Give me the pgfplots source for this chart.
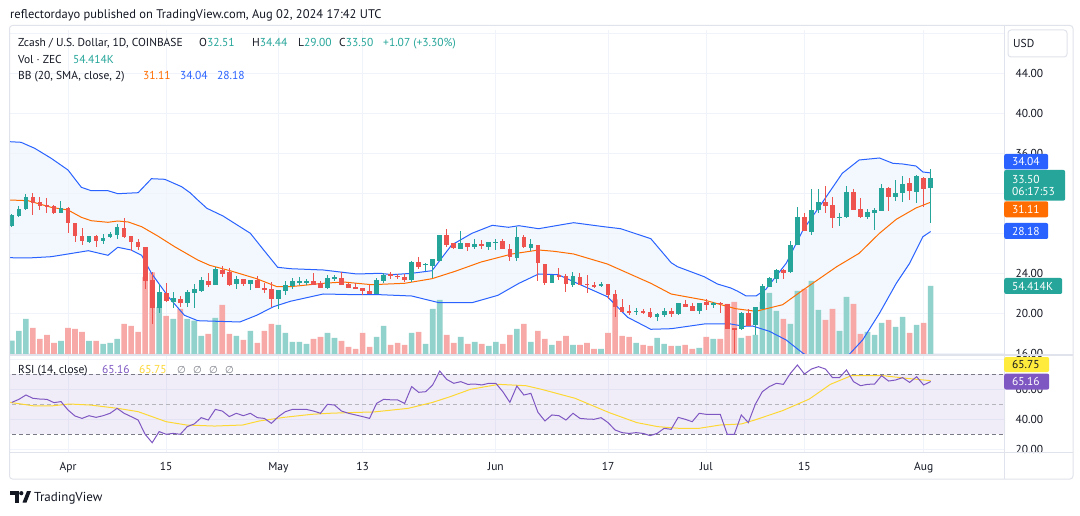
\documentclass[border=0pt]{standalone}
\usepackage{fontspec}
\setmainfont{PT Sans}
\newfontfamily\dejavu{DejaVu Sans}
\usepackage{pgfplots}
\pgfplotsset{compat=1.18}
\usepackage{pgfplotstable}

\definecolor{upc}{HTML}{26A69A}
\definecolor{dnc}{HTML}{EF5350}
\definecolor{volup}{HTML}{92D2CC}
\definecolor{voldn}{HTML}{F7A9A7}
\definecolor{bbblue}{HTML}{2962FF}
\definecolor{bborange}{HTML}{FF6D00}
\definecolor{bbfillc}{HTML}{F2F8FE}
\definecolor{rsic}{HTML}{7E57C2}
\definecolor{rsima}{HTML}{FDD835}
\definecolor{gridc}{HTML}{F0F3FA}
\definecolor{framec}{HTML}{E0E3EB}
\definecolor{txt}{HTML}{131722}
\definecolor{dashc}{HTML}{787B86}
\definecolor{tagyellow}{HTML}{FFEB3B}

\newcommand\fs{\fontsize{11.5}{13}\selectfont}

% d = days since 1 Apr 2024
\pgfplotstableread{
d O H L C V
-8 28.73 29.93 28.63 29.83 10.7
-7 29.73 30.73 29.6 30.4 18.4
-6 30.4 31.93 30.33 31.63 28
-1 30.06 31.26 30.0 30.53 10.4
3 27.13 27.73 27.0 27.73 10.4
5 27.26 27.93 26.9 27.53 8
6 27.6 28.13 27.53 27.93 8.8
7 27.86 28.93 27.46 28.6 12
13 20.56 22.93 19.99 22.13 37.6
15 21.13 22.1 20.5 21.53 28
17 21.03 22.3 20.63 22.1 28
18 22.06 22.9 20.5 22.4 26.7
19 22.23 23.66 22.1 23.3 14.4
21 22.86 24.6 22.8 24.4 28.8
24 22.93 23.73 22.46 23.4 14.4
26 22.93 23.33 22.33 23.33 18.4
30 21.46 22.33 20.4 22.33 23.2
31 22.26 23.26 21.8 22.8 16.8
32 22.73 23.53 22.4 23.26 9.6
33 23.13 23.6 22.8 23.2 9.6
34 23.13 23.4 22.86 23.2 8
37 22.53 23.8 22.4 23.53 16.8
38 23.53 23.86 23.26 23.56 12.8
44 21.93 23.53 21.93 23.33 13.6
45 23.26 24.0 23.06 23.86 22.4
49 23.33 25.2 23.13 25.13 16.8
51 24.86 25.0 24.26 24.9 8
52 24.73 25.46 23.53 25.46 36
53 25.26 27.8 25.26 27.8 43.2
56 26.46 28.26 26.4 27.0 13.6
58 26.66 27.46 26.46 26.93 9.6
60 26.66 27.13 26.33 27.13 6.4
61 27.1 27.4 26.33 27.13 9.6
64 25.53 28.66 25.26 27.66 20
66 26.53 27.4 26.26 26.93 9.6
69 23.06 23.8 23.06 23.8 7.2
72 22.8 24.13 22.6 23.73 7.2
76 22.73 23.13 22.6 22.93 4
81 20.16 20.53 19.8 20.2 8.8
84 19.66 20.06 19.26 19.93 12.8
85 19.8 20.53 19.66 20.26 8
87 19.93 21.06 19.86 21.06 6.4
90 20.26 21.06 19.93 21.06 4.8
92 20.93 21.13 20.53 20.96 12
96 18.4 20.13 18.33 20.06 12.8
98 18.8 20.66 17.86 20.6 15.2
99 20.46 22.93 20.46 22.73 41.6
100 22.66 23.66 22.6 23.53 48.8
101 23.46 24.46 23.0 24.33 34.4
103 24.13 27.2 24.06 26.8 24
104 26.8 30.6 26.8 29.6 50.4
106 28.13 32.4 27.86 30.33 58.4
107 30.33 32.46 30.0 31.13 35.2
110 29.6 30.0 28.73 29.63 18.4
111 29.6 32.73 29.53 32.13 45.6
114 29.66 30.46 29.46 30.13 17.6
115 30.06 30.53 28.33 30.33 15.2
116 30.26 32.93 30.26 32.53 24.8
118 31.66 33.33 31.2 32.0 21.6
119 32.0 33.73 31.13 32.93 29.6
121 32.13 33.8 31.06 33.73 23.2
123 32.51 34.44 29.0 33.50 54.414
}\upcandles

\pgfplotstableread{
d O H L C V
-5 31.63 32.03 29.86 31.06 20.8
-4 31.13 31.63 30.36 30.76 12
-3 30.8 31.53 30.0 30.7 15.2
-2 30.73 30.8 29.96 30.06 8.8
0 30.53 30.6 28.06 29.06 20.8
1 29.03 29.03 27.16 27.76 20
2 27.73 28.53 26.83 27.26 17.6
4 27.73 27.8 26.66 27.26 10.4
8 28.53 29.53 27.53 27.63 24
9 27.73 27.73 26.26 27.1 22.4
10 27.13 27.4 26.33 26.6 17.6
11 26.63 26.63 22.43 23.26 61.6
12 23.3 24.16 18.96 20.56 65.3
14 22.0 23.03 21.1 21.23 30.4
16 21.43 21.73 20.66 21.03 36
20 23.23 24.06 22.6 22.83 16
22 24.33 24.73 23.66 23.93 39.2
23 24.13 24.53 22.73 22.8 16
25 23.46 23.46 22.73 22.93 11.2
27 23.33 23.73 22.53 22.53 8.8
28 22.53 23.0 22.0 22.33 18.4
29 22.4 23.13 20.66 21.46 24
35 23.26 24.0 22.86 22.86 12
36 23.0 23.26 22.53 22.53 13.6
39 23.53 24.13 22.86 22.86 10.4
40 22.96 23.06 22.53 22.53 5.6
41 22.66 23.0 22.4 22.46 4
42 22.53 22.53 21.8 22.2 16.8
43 22.26 22.8 21.93 21.93 5.6
46 23.86 24.13 23.46 23.8 7.2
47 23.76 23.93 23.4 23.66 8.8
48 23.66 23.93 23.13 23.33 7.2
50 25.13 25.66 24.4 24.66 17.6
54 27.8 28.46 26.6 26.8 15.2
55 27.0 27.06 26.4 26.53 8.8
57 27.0 27.0 26.26 26.66 8
59 26.9 27.33 26.4 26.8 8
62 27.26 27.4 26.4 26.4 8
63 26.46 26.93 25.26 25.6 15.2
65 27.66 27.8 26.53 26.6 24
67 26.8 26.8 23.26 25.0 18.4
68 24.93 24.93 22.86 23.06 12
70 23.86 24.53 23.33 23.6 10.4
71 23.73 23.93 22.13 22.93 14.4
73 23.66 24.0 22.8 22.86 7.2
74 22.93 23.8 22.06 22.86 8.8
75 22.86 23.13 22.53 22.66 4
77 22.93 22.93 21.4 21.8 16.8
78 21.93 22.33 19.66 20.6 43.7
79 20.66 21.4 20.13 20.13 14.4
80 20.2 20.8 19.86 20.13 13.6
82 20.2 20.46 19.93 20.13 7.2
83 20.13 20.53 19.53 19.66 6.4
86 20.26 20.53 19.66 19.93 6.4
88 20.93 21.33 20.66 20.66 7.2
89 20.73 21.06 20.26 20.26 4
91 21.13 21.46 20.33 20.86 13.6
93 21.0 21.13 20.06 20.96 12
94 20.93 20.93 18.46 18.46 40
95 18.5 18.53 16.06 18.46 41.6
97 20.06 20.46 18.73 18.73 14.4
102 24.33 24.4 23.46 24.0 28
105 29.6 30.0 28.2 28.26 52
108 31.13 32.73 30.0 30.73 27.2
109 30.8 31.6 28.53 29.53 36
112 32.13 32.4 30.33 30.33 40
113 30.4 31.53 29.53 29.6 16
117 32.53 32.6 30.26 31.66 27.2
120 33.06 33.53 31.33 32.2 16.8
122 33.53 33.6 30.66 32.43 24.8
}\dncandles

\pgfplotstableread{
d v
-8.3 37.16
-6.7 37.1
-4.75 36.5
-2.4 35.5
0 34.33
1.9 32.6
3.3 32.26
5.7 32.26
7.1 31.96
10 32.06
11.9 33.46
13.8 33.4
16.2 32.66
17.4 32.06
18.5 31.33
19.8 30.5
22.1 29.73
26 28.0
27.9 26.33
29.9 24.6
31.7 24.46
36.4 24.33
41.2 23.93
44.5 24.0
46.2 23.86
49 24.0
51.9 24.26
54.7 26.83
57.6 28.0
60.5 28.8
62.8 28.6
64.3 28.76
67.1 28.46
70.4 28.86
72.1 29.06
76.4 28.66
78.8 28.46
83.1 27.46
86 25.06
86.9 24.66
90.7 23.66
92.6 22.93
94.5 22.53
95.5 22.2
96.7 21.73
98.1 21.73
99.5 22.4
102.4 25.0
104.8 28.33
107.6 31.13
110.4 34.0
112.8 35.33
115.7 35.53
117.6 35.0
119 34.93
120.9 34.73
121.9 34.13
123 34.04
}\bbU

\pgfplotstableread{
d v
-8.3 31.33
-5.7 31.26
-2.4 30.6
0 30.33
1.9 29.6
3.3 29.26
5.7 29.1
7.1 29.23
8.6 29.13
10.5 28.66
12.8 27.73
15.2 26.66
18.5 25.33
20.2 24.8
23.1 24.26
26.9 23.46
29.8 22.66
31.7 22.66
36.4 23.0
39.3 23.13
43.3 22.86
48 23.0
51.9 23.46
55.2 24.2
58.9 25.13
63.3 25.93
67.1 26.33
69.3 26.2
72.1 25.93
76.9 24.93
83.1 23.0
86 21.93
90.7 21.33
95.2 20.46
98.1 20.2
101.9 20.86
104.8 22.33
109.6 24.66
112.8 26.0
115.7 28.0
118.1 29.4
120.9 30.53
123 31.11
}\bbM

\pgfplotstableread{
d v
-8.3 25.56
-5.7 25.53
-2.4 25.66
0 25.93
2.9 26.26
5.7 25.8
7.1 26.6
9 26.33
10.5 25.8
11.9 24.0
14.3 21.66
16.6 19.8
18.5 19.26
24.5 19.13
26.9 19.8
29.3 20.66
31.7 21.2
36.4 21.93
41.2 21.86
44.5 21.86
49 21.73
52.9 21.06
57.6 21.06
61.3 21.8
64.3 23.0
67.1 23.93
69.9 23.86
72.6 23.0
76.9 21.66
79.8 19.6
83.1 18.4
86 18.46
90.7 18.93
94.5 18.93
96.4 18.7
97.6 18.73
100 18.2
102.4 17.33
104.8 16.0
107 15.2
109 14.9
111 15.6
113.3 17.33
115.7 20.0
118.1 23.0
120 25.0
121.9 27.66
123 28.18
}\bbL

\pgfplotstableread{
d v
-8 51.3
-7 53.3
-6 56.2
-5 54
-4 53.5
-3 53.3
-2 51.1
-1 51.8
0 46.2
1 42.2
2 40.6
3 42.4
4 41.3
5 42.4
6 44
7 47.3
8 44
9 41.8
10 39.5
11 30
12 24.4
13 31.8
14 30
15 30.6
16 30
17 35.1
18 36.9
19 41.1
20 39.5
21 46.6
22 45.5
23 41.8
24 44
25 42.4
26 44
27 41.1
28 40.6
29 37.3
30 41.8
31 45.1
32 46.6
33 46.6
34 46.6
35 45.5
36 44
37 50
38 49.5
39 45.5
40 44
41 42.9
42 41.8
43 40.6
44 50.6
45 53.3
46 53
47 52.9
48 50.6
49 61.8
50 58
51 58.4
52 62.9
53 72.2
54 66.6
55 64
56 65.1
57 63.3
58 63.5
59 62.9
60 64
61 64
62 58.4
63 51.3
64 62.2
65 56.2
66 57.3
67 44.7
68 38.9
69 42.9
70 42.4
71 39.5
72 44
73 40.6
74 40.2
75 40
76 41.1
77 37.8
78 32.9
79 31.1
80 30.6
81 31.1
82 30.6
83 29.1
84 30.6
85 34
86 33.3
87 41.3
88 40
89 38.4
90 44
91 43.3
92 43.3
93 43.3
94 30
95 30
96 42.9
97 37.8
98 50
99 58.4
100 61.8
101 64
102 63.3
103 70.6
104 76.2
105 70.2
106 73.5
107 75.1
108 73.5
109 67.8
110 67.8
111 72.9
112 65.1
113 62.4
114 63.3
115 63.5
116 69.1
117 65.5
118 66.2
119 67.8
120 64.6
121 68.4
122 62.9
123 65.16
}\rsitab

\pgfplotstableread{
d v
-8.3 51.3
-4.8 48.9
-2.4 48.9
0.2 50.2
3.2 49.5
7.1 47.3
10 45.1
14 38.4
16.9 36.2
20.9 35.5
24.9 36.2
27.3 38.9
30.8 41.3
34.7 43.3
37.2 44
39.6 44.4
43.6 44.9
48.5 47.3
52 51.3
54.5 55.1
57.4 60
61.4 63.3
65.3 62.4
67.5 60
72.3 54
77.2 44.4
81.1 37.8
84.1 35.1
87.1 34
90 34
93 36.2
96 36.9
97.9 39.5
101.9 45.8
105.7 53.5
108.7 63.3
111.7 69.1
116.2 69.1
119.6 67.3
123 65.75
}\rsimatab

\pgfplotsset{
  pane/.style={scale only axis, width=995pt, xmin=-8.27, xmax=133.6,
    anchor=south west, axis line style={draw=none},
    major tick length=0pt, tick style={draw=none},
    ticklabel style={font=\fs, text=txt}},
  wick/.style={only marks, mark=*, mark size=0pt, mark options={draw=none, fill=none},
    error bars/.cd, y dir=both, y explicit,
    error mark=none, error bar style={draw=#1, line width=1pt}},
  body/.style={only marks, mark=*, mark size=0pt, mark options={draw=none, fill=none},
    error bars/.cd, y dir=both, y explicit,
    error mark=none, error bar style={draw=#1, line width=4.7pt}},
}

\begin{document}
\begin{tikzpicture}
\fill[white] (0pt,0pt) rectangle (1080pt,515pt);

% ---------- price pane: BB fill + grid on top of it
\begin{axis}[pane, at={(10pt,161pt)}, height=324pt, ymin=15.93, ymax=48.33,
  axis on top,
  xtick={0,14,30,42,61,77,91,105,122}, xticklabels={,,,,,,,,,},
  ytick={16,20,24,28,32,36,40,44,48},
  yticklabels={16.00,20.00,24.00,,,36.00,40.00,44.00,},
  yticklabel pos=right, yticklabel style={anchor=west, xshift=7pt},
  grid=major, grid style={gridc, line width=1pt}]
\addplot[fill=bbfillc, draw=none] table[x=d,y=v] {\bbU} \closedcycle;
\addplot[fill=white, draw=none] table[x=d,y=v] {\bbL} \closedcycle;
\end{axis}

% ---------- volume
\begin{axis}[pane, at={(10pt,161pt)}, height=324pt, ymin=0, ymax=259.2,
  xtick=\empty, ytick=\empty]
\addplot[ybar, bar width=5.6pt, bar shift=0pt, fill=volup, draw=none] table[x=d,y=V] {\upcandles};
\addplot[ybar, bar width=5.6pt, bar shift=0pt, fill=voldn, draw=none] table[x=d,y=V] {\dncandles};
\end{axis}

% ---------- BB lines + candles
\begin{axis}[pane, at={(10pt,161pt)}, height=324pt, ymin=15.93, ymax=48.33,
  xtick=\empty, ytick=\empty]
\addplot[bbblue, line width=1pt] table[x=d,y=v] {\bbU};
\addplot[bbblue, line width=1pt] table[x=d,y=v] {\bbL};
\addplot[bborange, line width=1pt] table[x=d,y=v] {\bbM};
\addplot[wick=upc] table[x=d, y expr={(\thisrow{H}+\thisrow{L})/2}, y error expr={(\thisrow{H}-\thisrow{L})/2}] {\upcandles};
\addplot[wick=dnc] table[x=d, y expr={(\thisrow{H}+\thisrow{L})/2}, y error expr={(\thisrow{H}-\thisrow{L})/2}] {\dncandles};
\addplot[body=upc] table[x=d, y expr={(\thisrow{O}+\thisrow{C})/2}, y error expr={max(abs(\thisrow{C}-\thisrow{O})/2,0.06)}] {\upcandles};
\addplot[body=dnc] table[x=d, y expr={(\thisrow{O}+\thisrow{C})/2}, y error expr={max(abs(\thisrow{C}-\thisrow{O})/2,0.06)}] {\dncandles};
\end{axis}

% ---------- RSI pane
\begin{axis}[pane, at={(10pt,62.5pt)}, height=96.5pt, ymin=17.87, ymax=82.2,
  xtick={0,14,30,42,61,77,91,105,122},
  xticklabels={Apr,15,May,13,Jun,17,Jul,15,Aug},
  xticklabel style={yshift=-6pt},
  ytick={20,40,60,80}, yticklabels={20.00,40.00,60.00,},
  yticklabel pos=right, yticklabel style={anchor=west, xshift=7pt},
  grid=major, grid style={gridc, line width=1pt}]
\addplot[fill=rsic, fill opacity=0.1, draw=none] coordinates {(-9,30) (134,30) (134,70) (-9,70)} -- cycle;
\addplot[dashc, line width=0.9pt, dash pattern=on 4pt off 3pt] coordinates {(-9,70) (134,70)};
\addplot[dashc!55, line width=0.9pt, dash pattern=on 4pt off 3pt] coordinates {(-9,50) (134,50)};
\addplot[dashc, line width=0.9pt, dash pattern=on 4pt off 3pt] coordinates {(-9,30) (134,30)};
\addplot[rsima, line width=1pt] table[x=d,y=v] {\rsimatab};
\addplot[rsic, line width=1pt] table[x=d,y=v] {\rsitab};
\end{axis}

% ---------- frame and separators
\draw[framec, line width=1pt, rounded corners=3pt] (9.5pt,36pt) rectangle (1073pt,489.5pt);
\draw[framec, line width=1pt] (1004pt,36pt) -- (1004pt,489.5pt);
\draw[framec, line width=2pt] (9.5pt,160pt) -- (1073pt,160pt);
\draw[framec, line width=1pt] (9.5pt,62.5pt) -- (1073pt,62.5pt);

% ---------- header and legends
\node[anchor=base west, inner sep=0pt, text=txt, font=\fontsize{12.5}{14}\selectfont] at (10pt,496.7pt)
  {reflectordayo published on TradingView.com, Aug 02, 2024 17:42 UTC};
\begin{scope}[every node/.style={anchor=base west, inner sep=0pt, text=txt, font=\fs}]
\node at (18pt,468.7pt) {Zcash / U.S. Dollar, 1D, COINBASE};
\node at (199pt,468.7pt) {O\textcolor{upc}{32.51}};
\node at (252pt,468.7pt) {H\textcolor{upc}{34.44}};
\node at (298pt,468.7pt) {L\textcolor{upc}{29.00}};
\node at (339pt,468.7pt) {C\textcolor{upc}{33.50}};
\node[text=upc] at (383pt,468.7pt) {+1.07 (+3.30\%)};
\node at (18pt,451.7pt) {Vol · ZEC};
\node[text=upc] at (73pt,451.7pt) {54.414K};
\node at (18pt,435pt) {BB (20, SMA, close, 2)};
\node[text=bborange] at (143pt,435pt) {31.11};
\node[text=bbblue] at (180pt,435pt) {34.04};
\node[text=bbblue] at (217pt,435pt) {28.18};
\node at (18pt,142pt) {RSI (14, close)};
\node[text=rsic] at (102pt,142pt) {65.16};
\node[text=rsima] at (139pt,142pt) {65.75};
\node[text=dashc] at (177pt,142pt) {\dejavu\fontsize{10}{12}\selectfont ∅};
\node[text=dashc] at (193pt,142pt) {\dejavu\fontsize{10}{12}\selectfont ∅};
\node[text=dashc] at (209pt,142pt) {\dejavu\fontsize{10}{12}\selectfont ∅};
\node[text=dashc] at (225pt,142pt) {\dejavu\fontsize{10}{12}\selectfont ∅};
\end{scope}

% ---------- USD box
\draw[framec, line width=1pt, rounded corners=3pt] (1008pt,458pt) rectangle (1067pt,485pt);
\node[anchor=west, inner sep=0pt, text=txt, font=\fs] at (1013pt,471.5pt) {USD};

% ---------- price tags
\begin{scope}[every node/.style={anchor=west, inner xsep=8pt, inner ysep=0pt, align=left, rounded corners=2pt, text=white, font=\fs}]
\node[fill=bbblue, minimum height=15.5pt, text width=28pt] at (1004pt,353.3pt) {34.04};
\node[fill=upc, minimum height=30.7pt, text width=45pt] at (1004pt,329.7pt) {33.50\\[-1.5pt]06:17:53};
\node[fill=bborange, minimum height=16pt, text width=28pt] at (1004pt,305.7pt) {31.11};
\node[fill=bbblue, minimum height=16pt, text width=28pt] at (1004pt,284pt) {28.18};
\node[fill=upc, minimum height=16pt, text width=42pt] at (1004pt,229pt) {54.414K};
\node[fill=tagyellow, minimum height=15pt, text width=29pt, text=txt] at (1004pt,150.5pt) {65.75};
\node[fill=rsic, minimum height=16pt, text width=29pt] at (1004pt,133.4pt) {65.16};
\end{scope}

% ---------- TradingView logo
\fill[txt] (10pt,20pt) rectangle (18.5pt,24pt);
\fill[txt] (14.5pt,12.5pt) rectangle (18.5pt,24pt);
\fill[txt] (21.3pt,21.8pt) circle (2.1pt);
\fill[txt] (22.5pt,12.5pt) -- (27pt,24pt) -- (31pt,24pt) -- (26.5pt,12.5pt) -- cycle;
\node[anchor=base west, inner sep=0pt, text=txt, font=\fontsize{13}{15}\selectfont] at (34pt,13.3pt) {TradingView};
\end{tikzpicture}
\end{document}
